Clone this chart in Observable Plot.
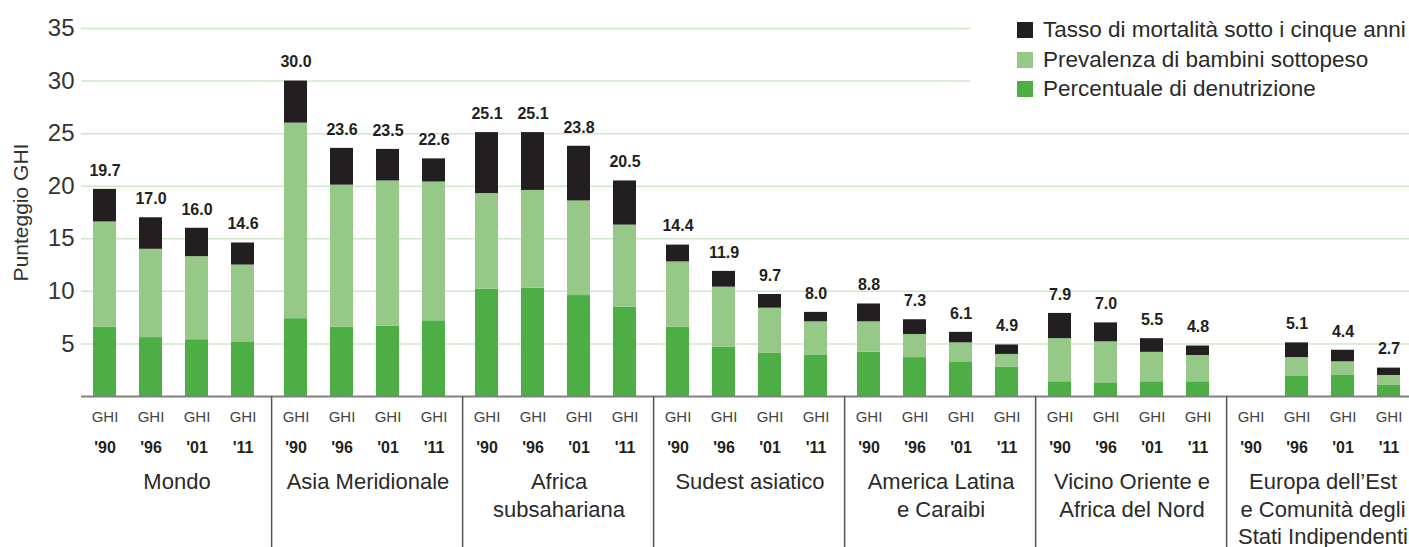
<!DOCTYPE html>
<html>
<head>
<meta charset="utf-8">
<script src="https://cdn.jsdelivr.net/npm/d3@7"></script>
<script src="https://cdn.jsdelivr.net/npm/@observablehq/plot@0.6"></script>
<style>
  html, body { margin: 0; padding: 0; background: #fff; }
  #wrap { position: relative; width: 1409px; height: 547px; overflow: hidden; font-family: "Liberation Sans", Arial, sans-serif; }
  #legend { position: absolute; left: 970px; top: 0; width: 439px; height: 110px; background: #fff; }
  .item { position: absolute; left: 47px; height: 16px; display: flex; align-items: center; font-size: 22.5px; color: #2a2a2a; white-space: nowrap; }
  .sw { width: 16px; height: 16px; margin-right: 10px; flex: none; }
</style>
</head>
<body>
<div id="wrap"></div>
<script>
// ---- data ----
const regions = ["Mondo", "Asia Meridionale", "Africa subsahariana", "Sudest asiatico",
  "America Latina e Caraibi", "Vicino Oriente e Africa del Nord",
  "Europa dell’Est e Comunità degli Stati Indipendenti"];
const regionLabels = ["Mondo", "Asia Meridionale", "Africa\nsubsahariana", "Sudest asiatico",
  "America Latina\ne Caraibi", "Vicino Oriente e\nAfrica del Nord",
  "Europa dell’Est\ne Comunità degli\nStati Indipendenti"];
const years = ["'90", "'96", "'01", "'11"];
const components = ["Percentuale di denutrizione", "Prevalenza di bambini sottopeso", "Tasso di mortalità sotto i cinque anni"];
const legendOrder = ["Tasso di mortalità sotto i cinque anni", "Prevalenza di bambini sottopeso", "Percentuale di denutrizione"];
const denutrizione = [[6.6,5.6,5.4,5.2],[7.4,6.6,6.7,7.2],[10.2,10.3,9.6,8.5],[6.6,4.7,4.1,3.9],[4.2,3.7,3.3,2.8],[1.4,1.3,1.4,1.4],[null,1.9,2.0,1.1]];
const sottopeso = [[10.0,8.4,7.9,7.3],[18.6,13.5,13.8,13.2],[9.1,9.3,9.0,7.8],[6.2,5.7,4.3,3.2],[2.9,2.2,1.8,1.2],[4.1,3.9,2.8,2.5],[null,1.8,1.3,0.9]];
const mortalita = [[3.1,3.0,2.7,2.1],[4.0,3.5,3.0,2.2],[5.8,5.5,5.2,4.2],[1.6,1.5,1.3,0.9],[1.7,1.4,1.0,0.9],[2.4,1.8,1.3,0.9],[null,1.4,1.1,0.7]];
const totals = [[19.7,17.0,16.0,14.6],[30.0,23.6,23.5,22.6],[25.1,25.1,23.8,20.5],[14.4,11.9,9.7,8.0],[8.8,7.3,6.1,4.9],[7.9,7.0,5.5,4.8],[null,5.1,4.4,2.7]];
const yTicks = [5, 10, 15, 20, 25, 30, 35];
const colors = ["#4cae44", "#96c888", "#231f20"];

// ---- tables ----
const series = [denutrizione, sottopeso, mortalita];
const rows = [], labels = [], slots = [];
regions.forEach((r, i) => years.forEach((y, j) => {
  slots.push({region: r, year: y});
  series.forEach((s, k) => { if (s[i][j] != null) rows.push({region: r, year: y, component: components[k], value: s[i][j]}); });
  if (totals[i][j] != null) labels.push({region: r, year: y, total: totals[i][j]});
}));
const regionRows = regions.map((r, i) => ({region: r, label: regionLabels[i]}));

// ---- layout ----
const W = 1409, H = 547, mL = 80, mR = -10, mT = 28, mB = 151;
const pi = 0.5, po = 0.32, al = 0.4;
const facetW = (W - mR - mL) / regions.length;
const step = facetW / (years.length - pi + 2 * po);
const start = (facetW - step * (years.length - pi)) * al;
const firstCenter = start + step * (1 - pi) / 2;

const chart = Plot.plot({
  width: W, height: H,
  marginLeft: mL, marginRight: mR, marginTop: mT, marginBottom: mB,
  style: {fontFamily: "'Liberation Sans', Arial, sans-serif", background: "#fff", overflow: "visible"},
  fx: {domain: regions, padding: 0, axis: null},
  x: {domain: years, paddingInner: pi, paddingOuter: po, align: al, axis: null},
  y: {domain: [0, 35], axis: null},
  color: {domain: components, range: colors},
  marks: [
    Plot.gridY(yTicks, {stroke: "#cfe7c9", strokeOpacity: 1, strokeWidth: 1.5}),
    Plot.barY(rows, {fx: "region", x: "year", y: "value", fill: "component"}),
    Plot.ruleY([0], {stroke: "#808080", strokeWidth: 2}),
    Plot.axisY({ticks: yTicks, tickSize: 0, tickPadding: 7, fontSize: 24, fill: "#333", label: null}),
    Plot.text([{region: "Mondo", t: "Punteggio GHI"}], {fx: "region", text: "t", frameAnchor: "left", textAnchor: "middle", rotate: -90, dx: -60, fontSize: 21, fill: "#333"}),
    Plot.text(labels, {fx: "region", x: "year", y: "total", text: d => d.total.toFixed(1), lineAnchor: "top", dy: -25, fontSize: 16, fontWeight: "bold", fill: "#231f20"}),
    Plot.text(slots, {fx: "region", x: "year", text: () => "GHI", frameAnchor: "bottom", lineAnchor: "top", dy: 15, fontSize: 15, fill: "#444"}),
    Plot.text(slots, {fx: "region", x: "year", text: "year", frameAnchor: "bottom", lineAnchor: "top", dy: 45, fontSize: 16, fontWeight: "bold", fill: "#231f20"}),
    Plot.text(regionRows, {fx: "region", text: "label", frameAnchor: "bottom", lineAnchor: "top", dy: 73, fontSize: 22, lineHeight: 1.25, fill: "#2a2a2a"}),
    Plot.ruleX(regions.slice(1).map(r => ({region: r, year: years[0]})), {fx: "region", x: "year", dx: -firstCenter - 1, insetTop: H - mT - mB, insetBottom: -mB, stroke: "#555", strokeWidth: 1.5})
  ]
});

const wrap = document.getElementById("wrap");
wrap.appendChild(chart);
const legend = document.createElement("div");
legend.id = "legend";
const tops = [22, 52, 81];
legendOrder.forEach((c, i) => {
  const it = document.createElement("div");
  it.className = "item";
  it.style.top = tops[i] + "px";
  const sw = document.createElement("span");
  sw.className = "sw";
  sw.style.background = colors[components.indexOf(c)];
  it.appendChild(sw);
  it.appendChild(document.createTextNode(c));
  legend.appendChild(it);
});
wrap.appendChild(legend);
</script>
</body>
</html>
